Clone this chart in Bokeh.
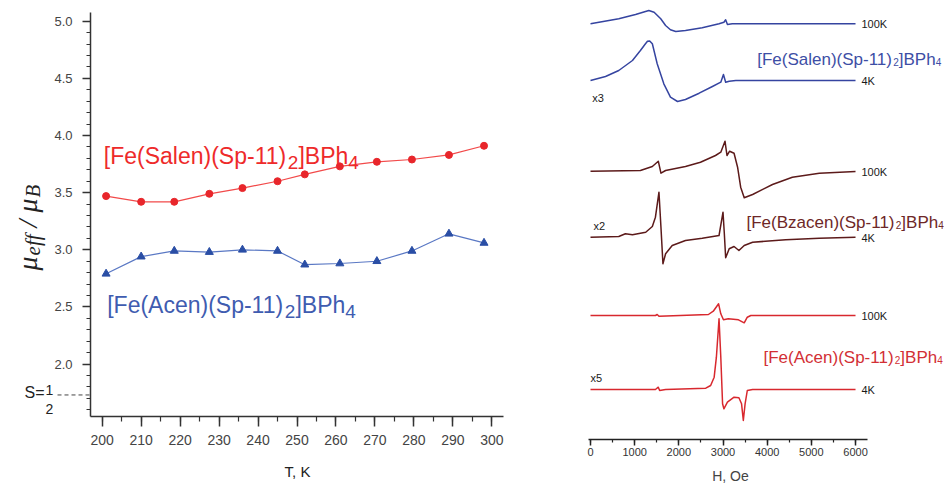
import math
from bokeh.plotting import figure
from bokeh.layouts import row
from bokeh.models import Label, Arrow, SingleIntervalTicker, NumeralTickFormatter
from bokeh.embed import file_html
from bokeh.resources import INLINE

# ---------------- data: magnetic moment vs temperature ----------------
T_K = [201, 210, 218.5, 227.5, 236, 245, 252, 261, 270.5, 279.5, 289, 298]
mu_salen = [3.47, 3.42, 3.42, 3.49, 3.54, 3.60, 3.66, 3.73, 3.77, 3.79, 3.83, 3.91]
mu_acen = [2.79, 2.94, 2.99, 2.98, 3.00, 2.99, 2.87, 2.88, 2.90, 2.99, 3.14, 3.06]
mu_s_half = 1.73

# ---------------- data: EPR spectra (field in Oe, intensity in arb. units) ----------------
H_salen_100 = [0, 640, 1020, 1320, 1440, 1590, 1700, 1810, 1930, 2150, 2530, 2910, 3020, 3060, 3100, 3210, 6000]
I_salen_100 = [0, 5, 9.3, 13.3, 11.6, 5, -1.7, -6, -7.7, -6.7, -4, 0, 1.6, 4, -0.7, 0, 0]
H_salen_4 = [0, 340, 640, 950, 1130, 1240, 1290, 1340, 1400, 1510, 1660, 1810, 1970, 2150, 2460, 2760, 2950, 3010, 3060, 3140, 3290, 6000]
I_salen_4 = [0, 4, 10, 20, 30, 36.5, 39.3, 39.5, 36.7, 16.7, -3.3, -16.7, -21, -19, -12.7, -6, -1.7, 6, -1.7, -0.7, 0, 0]
H_bz_100 = [0, 1130, 1400, 1535, 1595, 1700, 2150, 2490, 2830, 2950, 3045, 3090, 3150, 3250, 3330, 3400, 3480, 3670, 4120, 4570, 5180, 6000]
I_bz_100 = [0, 0.7, 4.7, 10, -2, 0.7, 4.7, 9, 15.7, 19, 30, 15.7, 20, 18, 4, -16, -26.6, -23.3, -13.3, -6, -2, -0.3]
H_bz_4 = [0, 640, 790, 950, 1250, 1400, 1470, 1550, 1595, 1640, 1700, 1850, 2150, 2530, 2910, 3000, 3030, 3060, 3140, 3250, 3360, 3480, 3670, 4420, 5180, 6000]
I_bz_4 = [0, 0.7, 3.4, 2.4, 5, 10.7, 20, 45, 10, -26.6, -16.6, -8.3, -3.3, -1, 1.7, 25, 3.4, -20.6, -11.6, -9.3, -13.3, -8.3, -5, -2.6, -1, 0]
H_acen_100 = [0, 1470, 1510, 1550, 2670, 2780, 2900, 2950, 3010, 3120, 3350, 3480, 3550, 3630, 6000]
I_acen_100 = [0, 0, 1, -0.7, 1, 4.3, 11.7, 1.7, -4.3, -3.3, -4.3, -7.3, -1.7, 0, 0]
H_acen_4 = [0, 1470, 1535, 1565, 1700, 2610, 2720, 2800, 2850, 2910, 2950, 2990, 3020, 3100, 3250, 3360, 3420, 3460, 3500, 3550, 3670, 6000]
I_acen_4 = [0, 0, 2.3, -1, 0, 1.3, 4, 12.3, 32.3, 70.7, 32.3, -14.3, -19.3, -12.7, -7.7, -8.3, -14.3, -31, -14.3, -1, 0, 0]

temps = ["100K", "4K"]
scale_labels = ["x3", "x2", "x5"]
compounds = ["Salen", "Bzacen", "Acen"]

# ---------------- styling / layout ----------------
FONT = "Liberation Sans"
SERIF = "Liberation Serif"
AW = {'[': 278, ']': 278, 'F': 611, 'e': 556, '(': 333, ')': 333, 'S': 667, 'a': 556, 'l': 222,
      'n': 556, 'p': 556, '-': 333, '1': 556, '2': 556, '4': 556, 'B': 667, 'P': 667, 'h': 556,
      'A': 667, 'c': 500, 'z': 500, ' ': 278}
TW = {'\u03bc': 540, 'e': 444, 'f': 278, ' ': 250, '/': 278, 'B': 611}


def twidth(s, size, table):
    return sum(table.get(ch, 556) for ch in s) * size / 1000.0


FIG_H = 484
# left panel: pixel geometry of the axes box
LW = 580
LX0, LX1, LY0, LY1 = 90, 503, 12, 416
XR = (197, 303)
YR = (1.5416, 5.0761)


def lx(px):
    return XR[0] + (px - LX0) * (XR[1] - XR[0]) / (LX1 - LX0)


def ly(py):
    return YR[1] - (py - LY0) * (YR[1] - YR[0]) / (LY1 - LY0)


# right panel geometry (page x offset 580)
R_OFF = 580
RW = 364
AXIS_PY = 439
PX_PER_OE = 0.04417


def hx(px):
    return (px - 590) / PX_PER_OE


def ry(py):
    return AXIS_PY - py


def rich(p, x0, yb, pieces, color, tx, ty, font=FONT, style="normal", table=AW, angle=0.0):
    """pieces: (text, font_px, shift_px); text None = blank gap of font_px pixels."""
    cur = x0
    for text, size, dy in pieces:
        if text is None:
            cur = cur + size if angle == 0.0 else cur - size
            continue
        if angle == 0.0:
            p.add_layout(Label(x=tx(cur), y=ty(yb + dy), text=text, text_font=font,
                               text_font_size=f"{size}px", text_color=color, text_font_style=style,
                               text_align="left", text_baseline="alphabetic"))
            cur += twidth(text, size, table)
        else:
            p.add_layout(Label(x=tx(yb + dy), y=ty(cur), text=text, text_font=font, angle=angle,
                               text_font_size=f"{size}px", text_color=color, text_font_style=style,
                               text_align="left", text_baseline="alphabetic"))
            cur -= twidth(text, size, table)


def style_axis(ax, color, tick_out, minor_out, standoff, size, label_color):
    ax.axis_line_color = color
    ax.axis_line_width = 1.5
    ax.major_tick_line_color = color
    ax.minor_tick_line_color = color
    ax.major_tick_line_width = 1.5
    ax.minor_tick_line_width = 1.2
    ax.major_tick_in = 0
    ax.minor_tick_in = 0
    ax.major_tick_out = tick_out
    ax.minor_tick_out = minor_out
    ax.major_label_standoff = standoff
    ax.major_label_text_font = FONT
    ax.major_label_text_font_size = size
    ax.major_label_text_color = label_color


# ================= left figure =================
p1 = figure(width=LW, height=FIG_H, x_range=(lx(0), lx(LW)), y_range=(ly(FIG_H), ly(0)),
            output_backend="svg", toolbar_location=None,
            min_border=0, min_border_left=0, min_border_right=0, min_border_top=0, min_border_bottom=0)
p1.outline_line_color = None
p1.xgrid.visible = False
p1.ygrid.visible = False
p1.background_fill_color = "white"
p1.border_fill_color = "white"

p1.xaxis.fixed_location = YR[0]
p1.xaxis.bounds = XR
p1.yaxis.fixed_location = XR[0]
p1.yaxis.bounds = YR
p1.xaxis.ticker = SingleIntervalTicker(interval=10, num_minor_ticks=2)
p1.yaxis.ticker = SingleIntervalTicker(interval=0.5, num_minor_ticks=5)
p1.yaxis.formatter = NumeralTickFormatter(format="0.0")
style_axis(p1.xaxis[0], "#333333", 10, 5, 8, "14px", "#444444")
style_axis(p1.yaxis[0], "#333333", 8, 4, 10, "13px", "#444444")

p1.line(T_K, mu_salen, line_color="#f24a4a", line_width=1.2)
p1.scatter(T_K, mu_salen, marker="circle", size=7, fill_color="#e8262b", line_color="#e8262b")
p1.line(T_K, mu_acen, line_color="#5a78c4", line_width=1.2)
p1.scatter(T_K, mu_acen, marker="triangle", size=8, fill_color="#2a4ea5", line_color="#2a4ea5")

rich(p1, 103.3, 155, [("[Fe(Salen)(Sp-11)", 23, 0), ("2", 19, 7), ("]BPh", 23, 0), ("4", 19, 7)],
     "#ee2a2a", lx, ly)
rich(p1, 106.7, 304, [("[Fe(Acen)(Sp-11)", 23, 0), ("2", 19, 7), ("]BPh", 23, 0), ("4", 19, 7)],
     "#3f5cb0", lx, ly)

# y axis label  mu_eff / mu_B  (rotated)
rich(p1, 270, 27, [("\u03bc", 28, 0), ("eff", 21, 5), (None, 7, 0), ("/", 28, 0), (None, 7, 0),
                   ("\u03bc", 28, 0), ("B", 21, 5)],
     "#222222", lx, ly, font=SERIF, style="italic", table=TW, angle=math.pi / 2)

p1.add_layout(Label(x=lx(297), y=ly(471), text="T, K", text_font=FONT, text_font_size="15px",
                    text_color="#222222", text_align="center", text_baseline="middle"))

# S = 1/2 marker
p1.add_layout(Label(x=lx(44), y=ly(392), text="S=", text_font=FONT, text_font_size="16px",
                    text_color="#222222", text_align="right", text_baseline="middle"))
p1.add_layout(Label(x=lx(49), y=ly(389), text="1", text_font=FONT, text_font_size="14px",
                    text_color="#222222", text_align="center", text_baseline="alphabetic"))
p1.add_layout(Label(x=lx(49), y=ly(408), text="2", text_font=FONT, text_font_size="14px",
                    text_color="#222222", text_align="center", text_baseline="alphabetic"))
p1.add_layout(Arrow(start=None, end=None, x_start=lx(57), x_end=lx(89), y_start=mu_s_half,
                    y_end=mu_s_half, line_color="#444444", line_width=1, line_dash="4 3"))

# ================= right figure =================
p2 = figure(width=RW, height=FIG_H, x_range=(hx(R_OFF), hx(R_OFF + RW)), y_range=(ry(FIG_H), ry(0)),
            output_backend="svg", toolbar_location=None, y_axis_location=None,
            min_border=0, min_border_left=0, min_border_right=0, min_border_top=0, min_border_bottom=0)
p2.outline_line_color = None
p2.xgrid.visible = False
p2.ygrid.visible = False
p2.xaxis.fixed_location = 0
p2.xaxis.bounds = (hx(588), hx(867))
p2.xaxis.ticker = SingleIntervalTicker(interval=1000, num_minor_ticks=2)
p2.xaxis.formatter = NumeralTickFormatter(format="0")
style_axis(p2.xaxis[0], "#222222", 6, 3, 2, "11px", "#333333")

traces = [
    (H_salen_100, I_salen_100, ry(23.3), "#3544a0"),
    (H_salen_4, I_salen_4, ry(80), "#3544a0"),
    (H_bz_100, I_bz_100, ry(170.7), "#5c1a1a"),
    (H_bz_4, I_bz_4, ry(236.7), "#5c1a1a"),
    (H_acen_100, I_acen_100, ry(315), "#d8282e"),
    (H_acen_4, I_acen_4, ry(389), "#d8282e"),
]
for H, I, off, col in traces:
    p2.line(H, [off + v for v in I], line_color=col, line_width=1.5, line_join="round")

temp_rows = [(23.3, 80), (171.7, 237), (315.7, 389)]
scale_pos = [(591.7, 97), (593, 225), (590, 377)]
for (y100, y4), (sx, sy), sl in zip(temp_rows, scale_pos, scale_labels):
    for yy, t in zip((y100, y4), temps):
        p2.add_layout(Label(x=hx(861), y=ry(yy), text=t, text_font=FONT, text_font_size="11px",
                            text_color="#1a1a1a", text_align="left", text_baseline="middle"))
    p2.add_layout(Label(x=hx(sx), y=ry(sy), text=sl, text_font=FONT, text_font_size="11px",
                        text_color="#1a1a1a", text_align="left", text_baseline="middle"))

name_specs = [(756.7, 59, "#3d4ea5"), (746, 222, "#6e2727"), (763, 357, "#d22f35")]
for cname, (x0, yb, col) in zip(compounds, name_specs):
    rich(p2, x0, yb, [(f"[Fe({cname})(Sp-11)", 17, 0), ("2", 10, 2), ("]BPh", 17, 0), ("4", 10, 2)],
         col, hx, ry)

p2.add_layout(Label(x=hx(730), y=ry(475), text="H, Oe", text_font=FONT, text_font_size="14px",
                    text_color="#444444", text_align="center", text_baseline="middle"))

layout = row(p1, p2)
open("out.html", "w").write(file_html(layout, INLINE))
